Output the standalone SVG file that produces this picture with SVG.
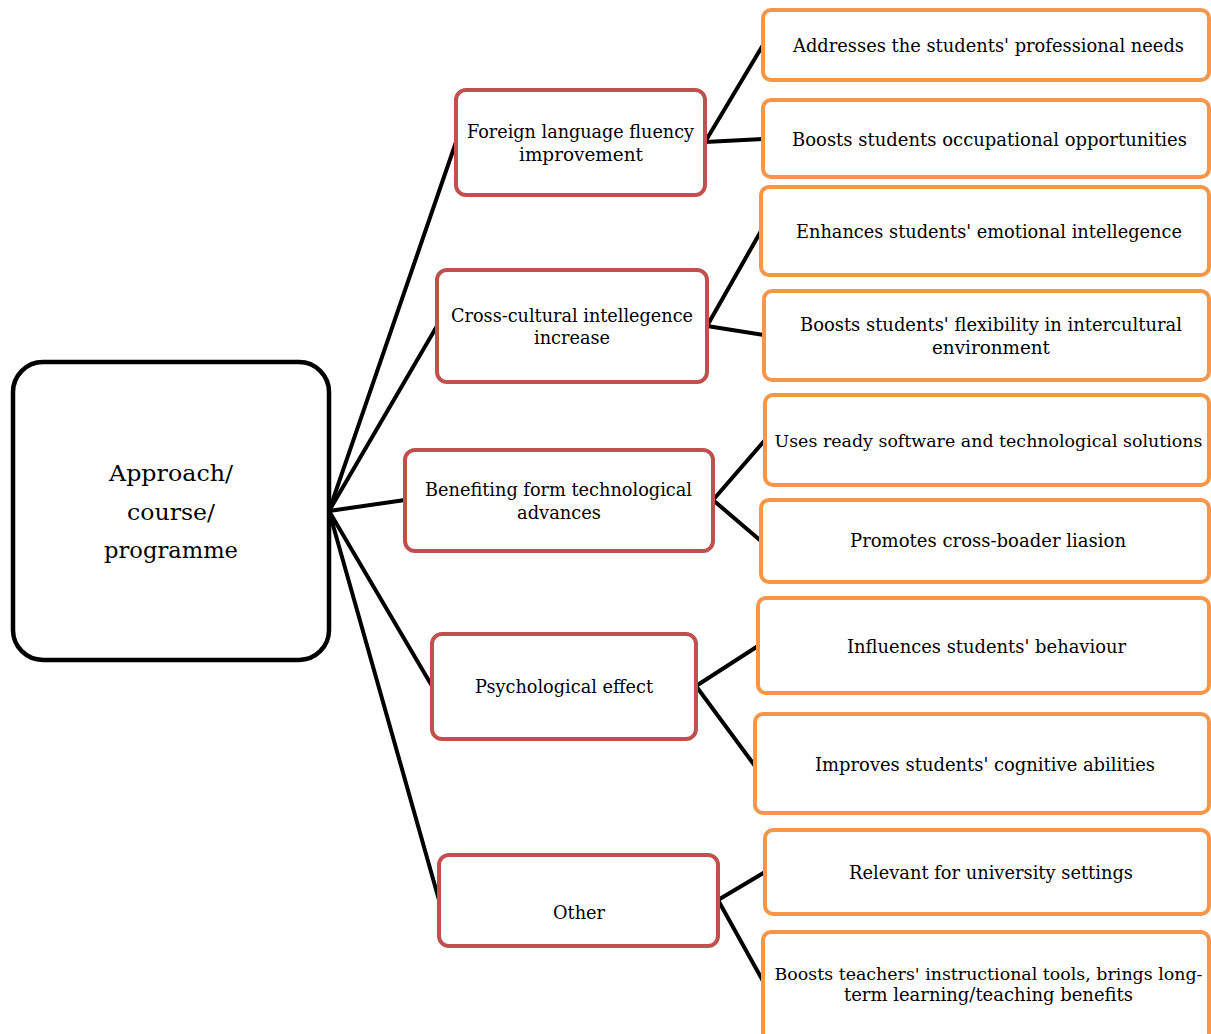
<svg xmlns="http://www.w3.org/2000/svg" width="1211" height="1034" viewBox="0 0 1211 1034">
<style>
.root{fill:#fff;stroke:#000;stroke-width:4.5}
.l1{fill:#fff;stroke:#C0504D;stroke-width:4}
.l2{fill:#fff;stroke:#F79646;stroke-width:4}
.c{stroke:#000;stroke-width:4;fill:none;stroke-linecap:round}
text{font-family:"DejaVu Serif","Liberation Serif",serif;fill:#000;text-anchor:middle;font-size:18px}
.rt{font-size:23px}
.sm{font-size:16.5px}
</style>
<rect width="1211" height="1034" fill="#fff"/>
<g id="connectors">
<line class="c" x1="329" y1="511" x2="456" y2="142"/>
<line class="c" x1="329" y1="511" x2="437" y2="326"/>
<line class="c" x1="329" y1="511" x2="405" y2="500"/>
<line class="c" x1="329" y1="511" x2="432" y2="686"/>
<line class="c" x1="329" y1="511" x2="439" y2="900"/>
<line class="c" x1="705" y1="142" x2="763" y2="45"/>
<line class="c" x1="705" y1="142" x2="763" y2="139"/>
<line class="c" x1="707" y1="326" x2="761" y2="231"/>
<line class="c" x1="707" y1="326" x2="764" y2="335"/>
<line class="c" x1="713" y1="500" x2="765" y2="440"/>
<line class="c" x1="713" y1="500" x2="761" y2="541"/>
<line class="c" x1="696" y1="686" x2="758" y2="646"/>
<line class="c" x1="696" y1="686" x2="755" y2="766"/>
<line class="c" x1="718" y1="900" x2="765" y2="872"/>
<line class="c" x1="718" y1="900" x2="763" y2="981"/>
</g>
<g id="root">
<rect class="root" x="13" y="362" width="316" height="298" rx="30"/>
<text class="rt" x="171" y="481" textLength="124" lengthAdjust="spacingAndGlyphs">Approach/</text>
<text class="rt" x="171" y="520" textLength="88" lengthAdjust="spacingAndGlyphs">course/</text>
<text class="rt" x="171" y="558" textLength="134" lengthAdjust="spacingAndGlyphs">programme</text>
</g>
<g id="n-foreign">
<rect class="l1" x="456" y="90" width="249" height="105" rx="10"/>
<text x="580.5" y="138" textLength="227" lengthAdjust="spacingAndGlyphs">Foreign language fluency</text>
<text x="581" y="161" textLength="124" lengthAdjust="spacingAndGlyphs">improvement</text>
</g>
<g id="n-cross">
<rect class="l1" x="437" y="270" width="270" height="112" rx="10"/>
<text x="572" y="322" textLength="242" lengthAdjust="spacingAndGlyphs">Cross-cultural intellegence</text>
<text x="572" y="344" textLength="76" lengthAdjust="spacingAndGlyphs">increase</text>
</g>
<g id="n-tech">
<rect class="l1" x="405" y="450" width="308" height="101" rx="10"/>
<text x="558.5" y="496" textLength="267" lengthAdjust="spacingAndGlyphs">Benefiting form technological</text>
<text x="559" y="519" textLength="84" lengthAdjust="spacingAndGlyphs">advances</text>
</g>
<g id="n-psych">
<rect class="l1" x="432" y="634" width="264" height="105" rx="10"/>
<text x="564" y="693" textLength="178" lengthAdjust="spacingAndGlyphs">Psychological effect</text>
</g>
<g id="n-other">
<rect class="l1" x="439" y="855" width="279" height="91" rx="10"/>
<text x="579" y="919" textLength="52" lengthAdjust="spacingAndGlyphs">Other</text>
</g>
<g id="b1">
<rect class="l2" x="763" y="10" width="446" height="70" rx="8"/>
<text x="988.5" y="52" textLength="391" lengthAdjust="spacingAndGlyphs">Addresses the students' professional needs</text>
</g>
<g id="b2">
<rect class="l2" x="763" y="100" width="446" height="77" rx="8"/>
<text x="989.5" y="146" textLength="395" lengthAdjust="spacingAndGlyphs">Boosts students occupational opportunities</text>
</g>
<g id="b3">
<rect class="l2" x="761" y="187" width="448" height="88" rx="8"/>
<text x="989" y="238" textLength="386" lengthAdjust="spacingAndGlyphs">Enhances students' emotional intellegence</text>
</g>
<g id="b4">
<rect class="l2" x="764" y="291" width="445" height="89" rx="8"/>
<text x="991" y="331" textLength="382" lengthAdjust="spacingAndGlyphs">Boosts students' flexibility in intercultural</text>
<text x="991" y="354" textLength="118" lengthAdjust="spacingAndGlyphs">environment</text>
</g>
<g id="b5">
<rect class="l2" x="765" y="395" width="444" height="90" rx="8"/>
<text class="sm" x="988.5" y="447" textLength="428" lengthAdjust="spacingAndGlyphs">Uses ready software and technological solutions</text>
</g>
<g id="b6">
<rect class="l2" x="761" y="500" width="448" height="82" rx="8"/>
<text x="988" y="547" textLength="276" lengthAdjust="spacingAndGlyphs">Promotes cross-boader liasion</text>
</g>
<g id="b7">
<rect class="l2" x="758" y="598" width="451" height="95" rx="8"/>
<text x="986.5" y="653" textLength="279" lengthAdjust="spacingAndGlyphs">Influences students' behaviour</text>
</g>
<g id="b8">
<rect class="l2" x="755" y="714" width="454" height="99" rx="8"/>
<text x="985" y="771" textLength="340" lengthAdjust="spacingAndGlyphs">Improves students' cognitive abilities</text>
</g>
<g id="b9">
<rect class="l2" x="765" y="830" width="444" height="84" rx="8"/>
<text x="991" y="879" textLength="284" lengthAdjust="spacingAndGlyphs">Relevant for university settings</text>
</g>
<g id="b10">
<rect class="l2" x="763" y="932" width="446" height="110" rx="8"/>
<text class="sm" x="988.5" y="980" textLength="428" lengthAdjust="spacingAndGlyphs">Boosts teachers' instructional tools, brings long-</text>
<text x="988.5" y="1001" textLength="289" lengthAdjust="spacingAndGlyphs">term learning/teaching benefits</text>
</g>
</svg>
